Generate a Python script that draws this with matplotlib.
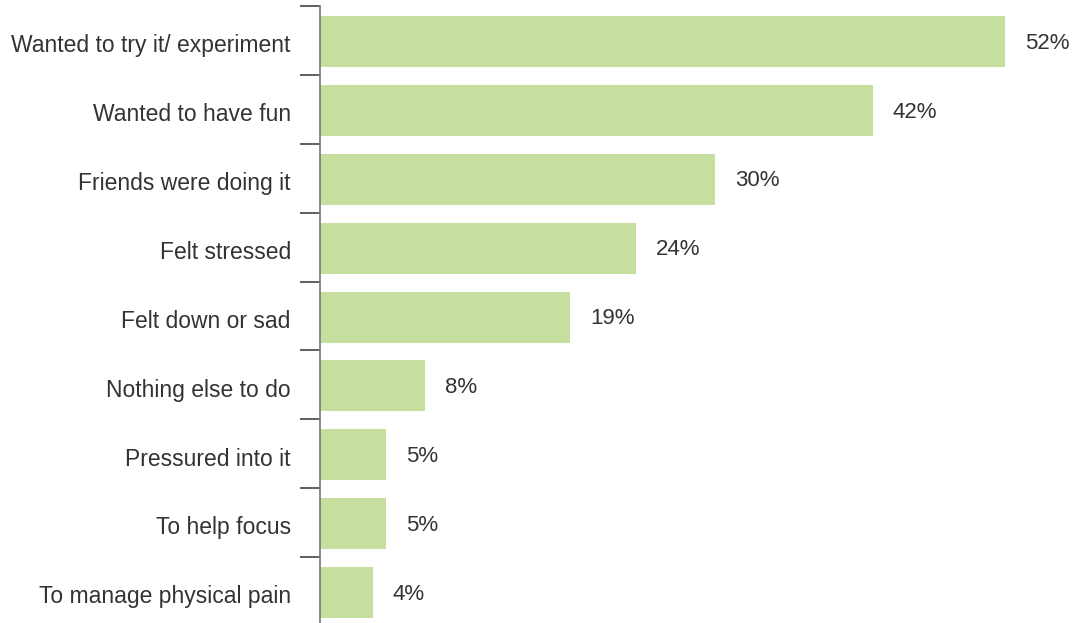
import matplotlib.pyplot as plt
import numpy as np

reasons = ["Wanted to try it/ experiment", "Wanted to have fun", "Friends were doing it",
           "Felt stressed", "Felt down or sad", "Nothing else to do",
           "Pressured into it", "To help focus", "To manage physical pain"]
percent = [52, 42, 30, 24, 19, 8, 5, 5, 4]

plt.rcParams['font.family'] = ['Liberation Sans', 'DejaVu Sans']

fig = plt.figure(figsize=(10.75, 6.23), dpi=100)
# category boundaries at ~6px ... ~626px from the top
ax = fig.add_axes([320 / 1075, -3 / 623, 755 / 1075, 620 / 623])

y = np.arange(len(reasons))
ax.barh(y + 0.015, percent, height=0.74, color="#C6DF9F")
for yi, v in zip(y, percent):
    ax.text(v + 1.5, yi + 0.04, "{}%".format(v), va="center", ha="left", fontsize=16, color="#333333")

ax.set_xlim(0, 755 / 13.17)
ax.set_ylim(len(reasons) - 0.5, -0.5)
ax.set_yticks(y + 0.04)
ax.set_yticklabels(reasons, fontsize=16.5, color="#333333")
ax.set_yticks(np.arange(-0.5, len(reasons), 1), minor=True)
ax.tick_params(axis="y", which="major", length=0, pad=21)
ax.tick_params(axis="y", which="minor", length=14.5, width=1.2, color="#444444")
ax.set_xticks([])
for s in ["top", "right", "bottom"]:
    ax.spines[s].set_visible(False)
ax.spines["left"].set_color("#777777")
ax.spines["left"].set_linewidth(1.2)

fig.savefig("out.png", dpi=100)
